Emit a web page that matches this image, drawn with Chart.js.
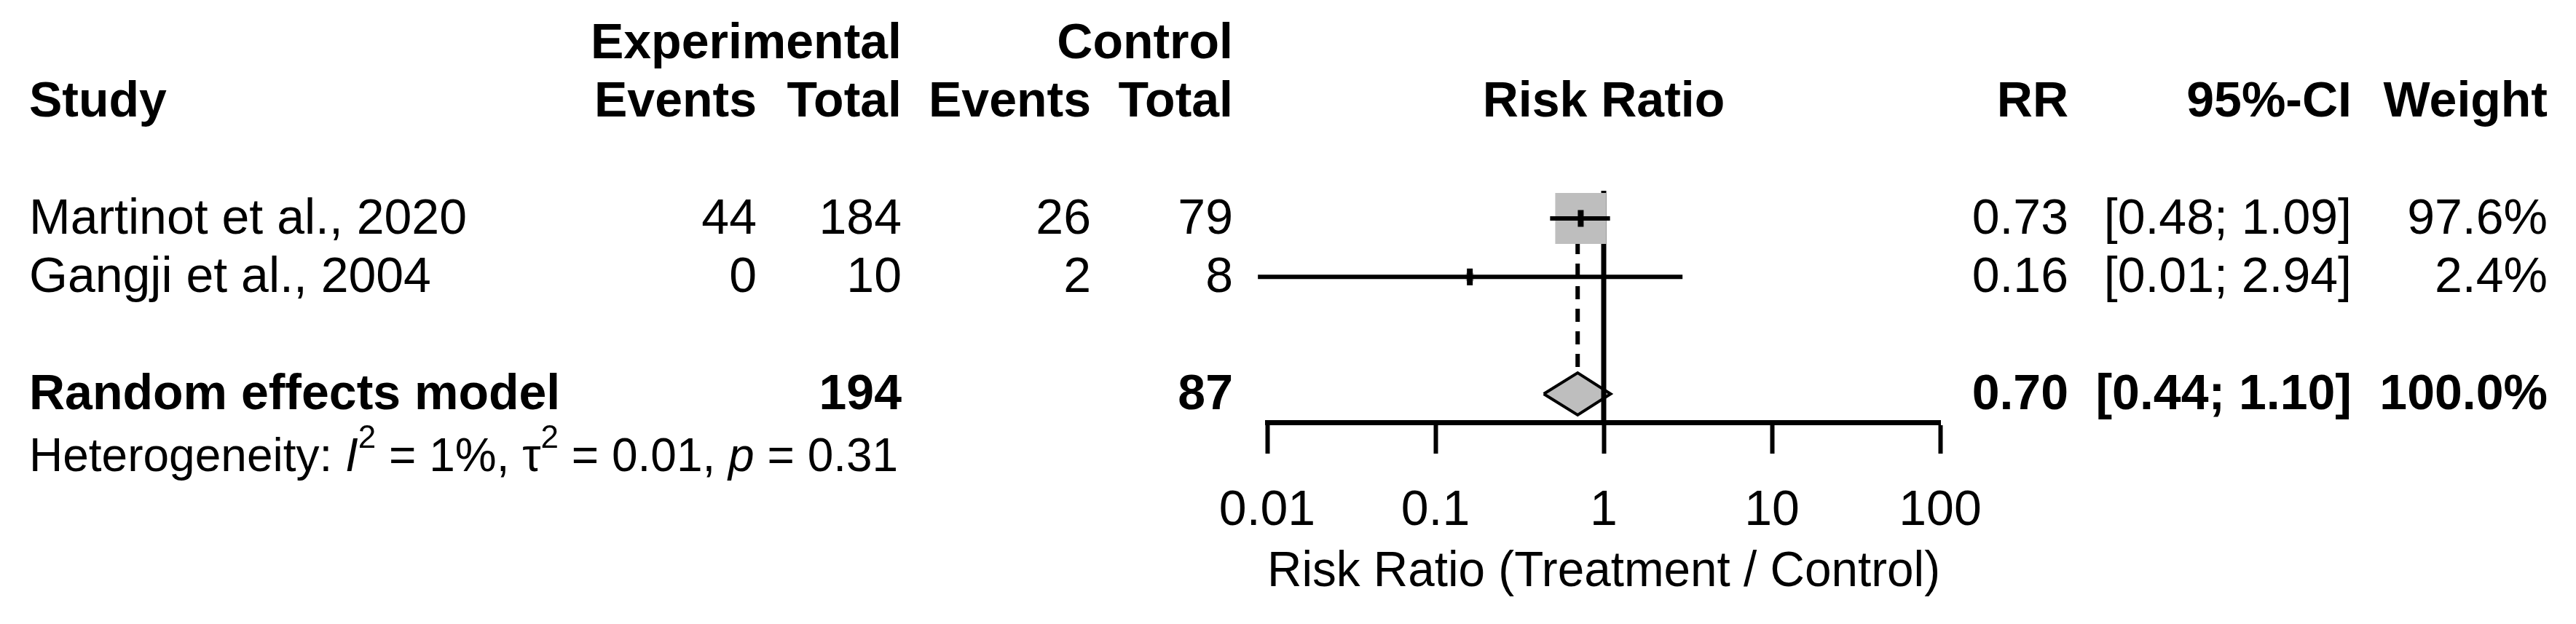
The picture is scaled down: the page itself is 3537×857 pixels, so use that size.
<!DOCTYPE html>
<html lang="en">
<head>
    <meta charset="UTF-8">
    <title>Forest plot</title>
    <script src="https://cdn.jsdelivr.net/npm/chart.js"></script>
    <style>
        body { margin: 0; background: #fff; }
        #wrap { width: 3537px; height: 857px; }
    </style>
</head>
<body>
    <div id="wrap"><canvas id="forest" width="3537" height="857"></canvas></div>

    <script>
        // study level data
        const studies = ['Martinot et al., 2020', 'Gangji et al., 2004'];
        const expEvents = [44, 0];
        const expTotal = [184, 10];
        const ctrlEvents = [26, 2];
        const ctrlTotal = [79, 8];
        const rr = [0.73, 0.16];
        const ciLow = [0.48, 0.0088];
        const ciHigh = [1.09, 2.94];
        const weights = [97.6, 2.4];

        // pooled (random effects)
        const pooledRR = 0.70;
        const pooledLow = 0.44;
        const pooledHigh = 1.10;
        const pooledExpTotal = 194;
        const pooledCtrlTotal = 87;
        const pooledWeight = 100.0;
        const hetI2 = '1%';
        const hetTau2 = '0.01';
        const hetP = '0.31';

        const xTicks = [0.01, 0.1, 1, 10, 100];
        const xTickLabels = ['0.01', '0.1', '1', '10', '100'];

        // row positions (plot rows, top = 1)
        const studyRows = [1, 2];
        const pooledRow = 4;
        const rowMin = 0.527, rowMax = 4.486;

        const FONT = "'Liberation Sans', Arial, sans-serif";
        const FS = 68;
        const GREY = '#bebebe';

        const maxW = Math.max(...weights);
        const squareRadius = weights.map(w => 49.5 * Math.sqrt(w / maxW));

        const ciDatasets = studies.map((s, i) => ({
            type: 'line',
            data: [{x: ciLow[i], y: studyRows[i]}, {x: ciHigh[i], y: studyRows[i]}],
            borderColor: '#000',
            borderWidth: 6,
            pointRadius: 0,
            clip: false,
            order: 3
        }));

        const diamondHalf = 0.36;

        const datasets = [
            {   // diamond
                type: 'line',
                data: [
                    {x: pooledLow, y: pooledRow},
                    {x: pooledRR, y: pooledRow - diamondHalf},
                    {x: pooledHigh, y: pooledRow},
                    {x: pooledRR, y: pooledRow + diamondHalf},
                    {x: pooledLow, y: pooledRow}
                ],
                borderColor: '#000',
                borderWidth: 4,
                backgroundColor: GREY,
                fill: 'shape',
                pointRadius: 0,
                tension: 0,
                borderJoinStyle: 'miter',
                order: 7
            },
            {   // line of no effect
                type: 'line',
                data: [{x: 1, y: rowMin}, {x: 1, y: rowMax}],
                borderColor: '#000',
                borderWidth: 7,
                pointRadius: 0,
                order: 6
            },
            {   // pooled estimate
                type: 'line',
                data: [{x: pooledRR, y: studyRows[0]}, {x: pooledRR, y: pooledRow - diamondHalf}],
                borderColor: '#000',
                borderWidth: 6,
                borderDash: [18, 13],
                pointRadius: 0,
                order: 5
            },
            {   // weight squares
                data: rr.map((v, i) => ({x: v, y: studyRows[i]})),
                pointStyle: 'rect',
                pointRadius: squareRadius,
                backgroundColor: GREY,
                borderWidth: 0,
                order: 4
            },
            ...ciDatasets,
            {   // point estimate marks
                data: rr.map((v, i) => ({x: v, y: studyRows[i]})),
                pointStyle: 'line',
                rotation: 90,
                pointRadius: 11.5,
                borderColor: '#000',
                borderWidth: 8,
                order: 1
            }
        ];

        const textPlugin = {
            id: 'forestText',
            afterDraw(chart) {
                const ctx = chart.ctx;
                const ys = chart.scales.y;
                const xs = chart.scales.x;
                ctx.save();
                ctx.fillStyle = '#000';
                ctx.textBaseline = 'middle';

                function txt(s, x, row, align, bold) {
                    ctx.font = (bold ? 'bold ' : '') + FS + 'px ' + FONT;
                    ctx.textAlign = align;
                    ctx.fillText(s, x, ys.getPixelForValue(row) + 2);
                }

                // column headers
                txt('Experimental', 1238, -2, 'right', true);
                txt('Control', 1693, -2, 'right', true);
                txt('Study', 40, -1, 'left', true);
                txt('Events', 1039, -1, 'right', true);
                txt('Total', 1238, -1, 'right', true);
                txt('Events', 1498, -1, 'right', true);
                txt('Total', 1693, -1, 'right', true);
                txt('Risk Ratio', xs.getPixelForValue(1), -1, 'center', true);
                txt('RR', 2840, -1, 'right', true);
                txt('95%-CI', 3229, -1, 'right', true);
                txt('Weight', 3498, -1, 'right', true);

                // study rows
                studies.forEach((s, i) => {
                    const r = studyRows[i];
                    txt(s, 40, r, 'left');
                    txt(String(expEvents[i]), 1039, r, 'right');
                    txt(String(expTotal[i]), 1238, r, 'right');
                    txt(String(ctrlEvents[i]), 1498, r, 'right');
                    txt(String(ctrlTotal[i]), 1693, r, 'right');
                    txt(rr[i].toFixed(2), 2840, r, 'right');
                    txt('[' + ciLow[i].toFixed(2) + '; ' + ciHigh[i].toFixed(2) + ']', 3229, r, 'right');
                    txt(weights[i].toFixed(1) + '%', 3498, r, 'right');
                });

                // pooled row
                txt('Random effects model', 40, pooledRow, 'left', true);
                txt(String(pooledExpTotal), 1238, pooledRow, 'right', true);
                txt(String(pooledCtrlTotal), 1693, pooledRow, 'right', true);
                txt(pooledRR.toFixed(2), 2840, pooledRow, 'right', true);
                txt('[' + pooledLow.toFixed(2) + '; ' + pooledHigh.toFixed(2) + ']', 3229, pooledRow, 'right', true);
                txt(pooledWeight.toFixed(1) + '%', 3498, pooledRow, 'right', true);

                // heterogeneity line
                const hs = 64, sup = 44;
                const hy = ys.getPixelForValue(5.1);
                const parts = [
                    ['Heterogeneity: ', ''], ['I', 'italic'], ['2', 'sup'],
                    [' = ' + hetI2 + ', ', ''], ['\u03c4', ''], ['2', 'sup'],
                    [' = ' + hetTau2 + ', ', ''], ['p', 'italic'], [' = ' + hetP, '']
                ];
                let hx = 40;
                ctx.textAlign = 'left';
                parts.forEach(([s, st]) => {
                    let yy = hy;
                    if (st === 'sup') {
                        ctx.font = sup + 'px ' + FONT;
                        yy = hy - 26;
                    } else if (st === 'italic') {
                        ctx.font = 'italic ' + hs + 'px ' + FONT;
                    } else {
                        ctx.font = hs + 'px ' + FONT;
                    }
                    ctx.fillText(s, hx, yy);
                    hx += ctx.measureText(s).width;
                });
                ctx.restore();
            }
        };

        Chart.defaults.font.family = FONT;
        Chart.defaults.color = '#000';

        const ctx = document.getElementById('forest').getContext('2d');
        const forestChart = new Chart(ctx, {
            type: 'scatter',
            data: { datasets: datasets },
            options: {
                responsive: false,
                devicePixelRatio: 1,
                animation: false,
                layout: { padding: { left: 1740, right: 873, top: 262, bottom: 0 } },
                plugins: {
                    legend: { display: false },
                    tooltip: { enabled: false }
                },
                scales: {
                    x: {
                        type: 'logarithmic',
                        min: 0.01,
                        max: 100,
                        afterBuildTicks: (s) => { s.ticks = xTicks.map(v => ({value: v})); },
                        afterFit: (s) => { s.height = 277; },
                        ticks: {
                            autoSkip: false,
                            maxRotation: 0,
                            padding: 38,
                            font: { size: FS },
                            color: '#000',
                            callback: (v, i) => xTickLabels[i]
                        },
                        grid: {
                            drawOnChartArea: false,
                            drawTicks: true,
                            tickLength: 43,
                            tickWidth: 6,
                            tickColor: '#000'
                        },
                        border: { display: true, color: '#000', width: 7 },
                        title: {
                            display: true,
                            text: 'Risk Ratio (Treatment / Control)',
                            font: { size: FS },
                            color: '#000',
                            padding: { top: 0, bottom: 30 }
                        }
                    },
                    y: {
                        type: 'linear',
                        min: rowMin,
                        max: rowMax,
                        reverse: true,
                        display: false
                    }
                }
            },
            plugins: [textPlugin]
        });
    </script>
</body>
</html>
